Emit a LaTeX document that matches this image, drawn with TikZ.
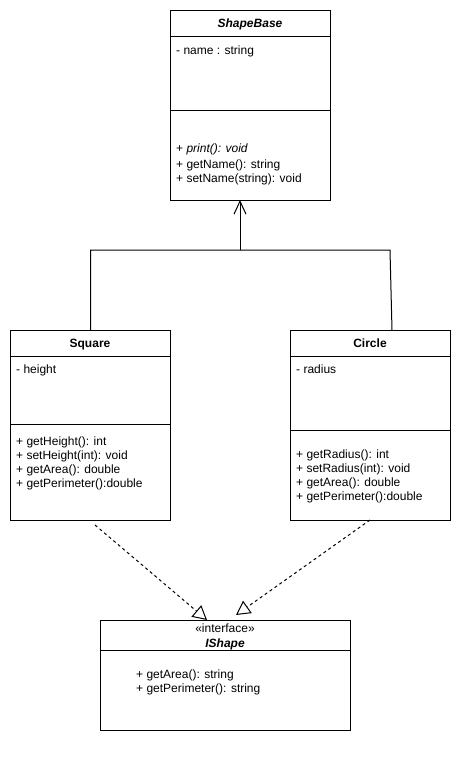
\documentclass[tikz,border=0pt]{standalone}
\usepackage{fontspec}
\setmainfont{Liberation Sans}
\usetikzlibrary{arrows.meta}
\tikzset{
  umlbox/.style={draw, line width=1pt, minimum width=160pt, minimum height=190pt, anchor=north west, inner sep=0pt},
  txt/.style={anchor=base west, inner sep=0pt, font=\fontsize{12}{14}\selectfont},
  ttl/.style={anchor=base, inner sep=0pt, font=\fontsize{12}{14}\selectfont\bfseries},
  sep/.style={line width=1pt},
  gen/.style={line width=1pt, -{Straight Barb[length=13pt,width=12pt,line width=1pt]}},
  real/.style={line width=1pt, dash pattern=on 3pt off 3pt, -{Triangle[open,length=14pt,width=15pt,line width=1pt]}},
}
\begin{document}
\begin{tikzpicture}[x=1pt,y=-1pt]
\useasboundingbox (0,0) rectangle (461,766);
% ShapeBase
\node[umlbox] (sb) at (170,10) {};
\draw[sep] (170,36) -- (330,36);
\draw[sep] (170,110) -- (330,110);
\node[ttl] (sbt) at (250,27.5) {\itshape ShapeBase};
\node[txt] (sb1) at (176,54) {- name : string};
\node[txt] (sb2) at (176,152) {+ \textit{print(): void}};
\node[txt] (sb3) at (176,168) {+ getName(): string};
\node[txt] (sb4) at (176,182) {+ setName(string): void};
% Square
\node[umlbox] (sq) at (10,330) {};
\draw[sep] (10,356) -- (170,356);
\draw[sep] (10,424) -- (170,424);
\node[ttl] (sqt) at (90,347.5) {Square};
\node[txt] (sq1) at (16,373.5) {- height};
\node[txt] (sq2) at (16,445.5) {+ getHeight(): int};
\node[txt] (sq3) at (16,459.5) {+ setHeight(int): void};
\node[txt] (sq4) at (16,473.5) {+ getArea(): double};
\node[txt] (sq5) at (16,487.5) {+ getPerimeter():double};
% Circle
\node[umlbox] (ci) at (290,330) {};
\draw[sep] (290,356) -- (450,356);
\draw[sep] (290,430) -- (450,430);
\node[ttl] (cit) at (370,347.5) {Circle};
\node[txt] (ci1) at (296,373.5) {- radius};
\node[txt] (ci2) at (296,458) {+ getRadius(): int};
\node[txt] (ci3) at (296,472) {+ setRadius(int): void};
\node[txt] (ci4) at (296,486) {+ getArea(): double};
\node[txt] (ci5) at (296,500) {+ getPerimeter():double};
% IShape
\node[umlbox, minimum width=250pt, minimum height=110pt] (is) at (100,620) {};
\draw[sep] (100,650) -- (350,650);
\node[txt, anchor=base] (ist0) at (225,632) {«interface»};
\node[ttl] (ist) at (225,647.5) {\itshape IShape};
\node[txt] (is1) at (136,678) {+ getArea(): string};
\node[txt] (is2) at (136,692) {+ getPerimeter(): string};
% generalization
\coordinate (j) at (240,250);
\coordinate (sbin) at (240,200);
\coordinate (jr) at (390,250);
\coordinate (ciin) at (392,330);
\draw[line width=1pt] (sq.north) |- (jr) -- (ciin);
\draw[gen] (j) -- (sbin);
% realization
\coordinate (sqo) at (95,525);
\coordinate (sqi) at (207,620);
\coordinate (cio) at (370,520);
\coordinate (cii) at (236,615);
\draw[real] (sqo) -- (sqi);
\draw[real] (cio) -- (cii);
\end{tikzpicture}
\end{document}
